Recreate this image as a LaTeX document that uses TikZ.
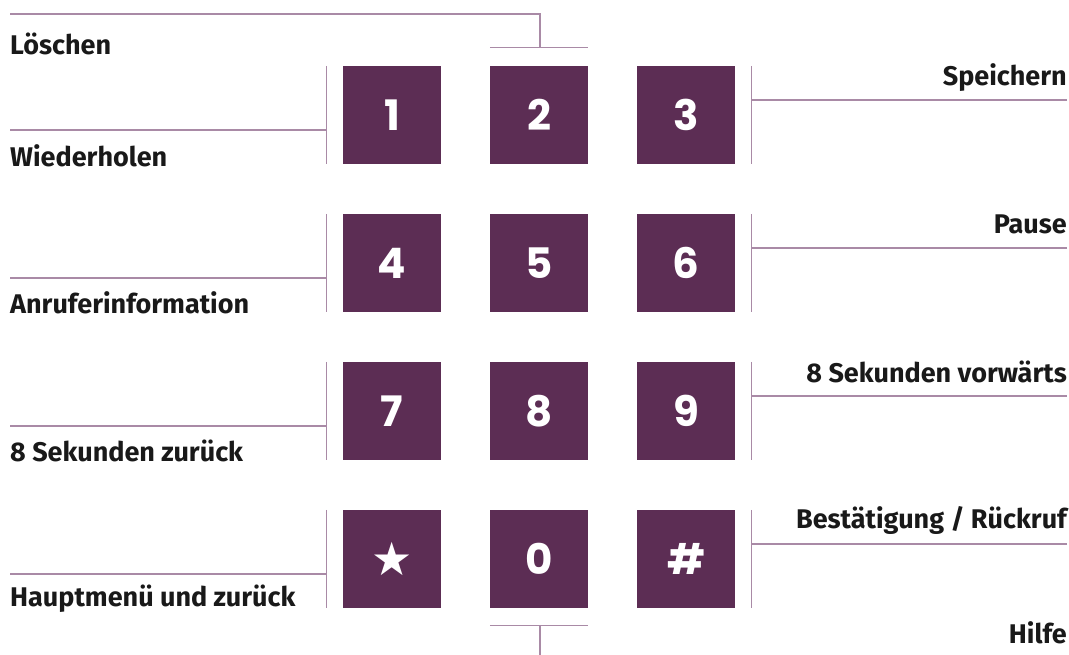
\documentclass[tikz,border=0pt]{standalone}
\usepackage{fontspec}
\setmainfont{Fira Sans}[Numbers=OldStyle]
\newfontfamily\keyfont{Poppins}
\newfontfamily\symfont{DejaVu Sans}
\usepackage{tikz}
\usetikzlibrary{positioning}
\definecolor{keypurple}{HTML}{5C2D54}
\definecolor{wirecol}{HTML}{A98AA6}
\tikzset{key/.style={rectangle,fill=keypurple,text=white,minimum size=98pt,inner sep=0pt,font=\keyfont\fontsize{42}{42}\selectfont\bfseries},
  lbl/.style={font=\fontsize{27}{29}\selectfont\bfseries,text=black!90,inner sep=0pt},
  wire/.style={draw=wirecol,line width=1.2pt}}

\begin{document}
\begin{tikzpicture}[x=1pt,y=-1pt]
    \useasboundingbox (0,0) rectangle (1069,655);

    \node[key] (k1) at (392,115) {1};
    \node[key] (k2) at (539,115) {2};
    \node[key] (k3) at (686,115) {3};
    \node[key] (k4) at (392,263) {4};
    \node[key] (k5) at (539,263) {5};
    \node[key] (k6) at (686,263) {6};
    \node[key] (k7) at (392,411) {7};
    \node[key] (k8) at (539,411) {8};
    \node[key] (k9) at (686,411) {9};
    \node[key] (kstar) at (392,559) {\symfont\fontsize{46}{46}\selectfont\raisebox{-6pt}{★}};
    \node[key] (k0) at (539,559) {0};
    \node[key] (khash) at (686,559) {\#};

    \node[lbl,anchor=west] (loeschen) at (10,44) {Löschen};
    \node[lbl,anchor=west] (wiederholen) at (10,156) {Wiederholen};
    \node[lbl,anchor=west] (anrufer) at (10,303) {Anruferinformation};
    \node[lbl,anchor=west] (zurueck) at (10,451) {8 Sekunden zurück};
    \node[lbl,anchor=west] (hauptmenue) at (10,599) {Hauptmenü und zurück};
    \node[lbl,anchor=east] (speichern) at (1067,78) {Speichern};
    \node[lbl,anchor=east] (pause) at (1067,224) {Pause};
    \node[lbl,anchor=east] (vorwaerts) at (1067,372) {8 Sekunden vorwärts};
    \node[lbl,anchor=east] (bestaetigung) at (1067,520) {Bestätigung / Rückruf};
    \node[lbl,anchor=east] (hilfe) at (1067,633) {Hilfe};

    \coordinate (top0) at (10,14);
    \coordinate (top1) at (540,14);
    \coordinate (top2) at (540,48);
    \coordinate (bot1) at (540,625);
    \coordinate (bot2) at (540,655);
    \coordinate (l1) at (10,130);
    \coordinate (l2) at (10,278);
    \coordinate (l3) at (10,426);
    \coordinate (l4) at (10,574);
    \coordinate (r1) at (1067,100);
    \coordinate (r2) at (1067,248);
    \coordinate (r3) at (1067,396);
    \coordinate (r4) at (1067,544);
    \coordinate (bl1) at ([xshift=-16pt]k1.west);
    \coordinate (bl2) at ([xshift=-16pt]k4.west);
    \coordinate (bl3) at ([xshift=-16pt]k7.west);
    \coordinate (bl4) at ([xshift=-16pt]kstar.west);
    \coordinate (br1) at ([xshift=16pt]k3.east);
    \coordinate (br2) at ([xshift=16pt]k6.east);
    \coordinate (br3) at ([xshift=16pt]k9.east);
    \coordinate (br4) at ([xshift=16pt]khash.east);

    % Loeschen and Hilfe
    \draw[wire] (top0) -- (top1) -- (top2);
    \draw[wire] ([yshift=18pt]k2.north west) -- ([yshift=18pt]k2.north east);
    \draw[wire] ([yshift=-17pt]k0.south west) -- ([yshift=-17pt]k0.south east);
    \draw[wire] (bot1) -- (bot2);

    % left side
    \draw[wire] ([xshift=-16pt]k1.north west) -- ([xshift=-16pt]k1.south west);
    \draw[wire] ([xshift=-16pt]k4.north west) -- ([xshift=-16pt]k4.south west);
    \draw[wire] ([xshift=-16pt]k7.north west) -- ([xshift=-16pt]k7.south west);
    \draw[wire] ([xshift=-16pt]kstar.north west) -- ([xshift=-16pt]kstar.south west);
    \draw[wire] (l1) -- (l1 -| bl1);
    \draw[wire] (l2) -- (l2 -| bl2);
    \draw[wire] (l3) -- (l3 -| bl3);
    \draw[wire] (l4) -- (l4 -| bl4);

    % right side
    \draw[wire] ([xshift=16pt]k3.north east) -- ([xshift=16pt]k3.south east);
    \draw[wire] ([xshift=16pt]k6.north east) -- ([xshift=16pt]k6.south east);
    \draw[wire] ([xshift=16pt]k9.north east) -- ([xshift=16pt]k9.south east);
    \draw[wire] ([xshift=16pt]khash.north east) -- ([xshift=16pt]khash.south east);
    \draw[wire] (r1) -- (r1 -| br1);
    \draw[wire] (r2) -- (r2 -| br2);
    \draw[wire] (r3) -- (r3 -| br3);
    \draw[wire] (r4) -- (r4 -| br4);
\end{tikzpicture}
\end{document}
